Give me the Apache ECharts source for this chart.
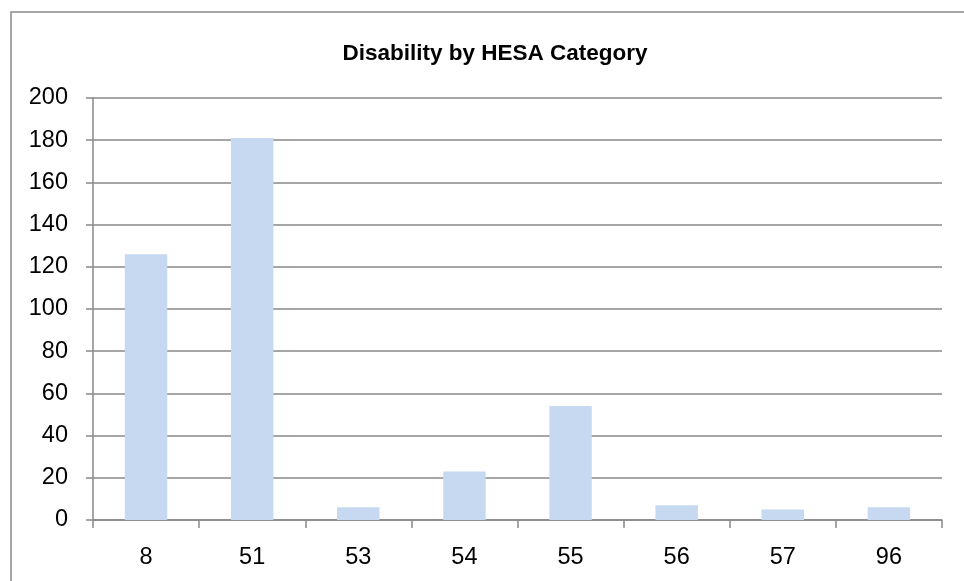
<!DOCTYPE html>
<html>
<head>
<meta charset="utf-8">
<script src="https://cdn.jsdelivr.net/npm/echarts@6/dist/echarts.min.js"></script>
<style>html,body{margin:0;padding:0;background:#fff}#c{width:964px;height:581px}</style>
</head>
<body>
<div id="c"></div>
<script>
const categories = ['8', '51', '53', '54', '55', '56', '57', '96'];
const values = [126, 181, 6, 23, 54, 7, 5, 6];
const titleText = 'Disability by HESA Category';

const chart = echarts.init(document.getElementById('c'), null, {renderer: 'canvas'});
const FONT = 'Liberation Sans';
chart.setOption({
  animation: false,
  backgroundColor: '#fff',
  title: {
    text: titleText,
    left: 490, top: 37, textAlign: 'center',
    textStyle: {fontFamily: FONT, fontWeight: 'bold', fontSize: 22.5, color: '#000'}
  },
  graphic: [{
    type: 'rect', silent: true,
    shape: {x: 11, y: 12, width: 1000, height: 1000},
    style: {fill: 'none', stroke: '#898989', lineWidth: 1.5}
  }],
  grid: {left: 93, right: 22, top: 98, bottom: 61, containLabel: false},
  xAxis: {
    type: 'category', data: categories, boundaryGap: true,
    axisLine: {show: true, lineStyle: {color: '#898989', width: 1.5}},
    axisTick: {show: true, length: 8, lineStyle: {color: '#898989', width: 1.5}},
    axisLabel: {fontFamily: FONT, fontSize: 23.5, color: '#000', margin: 26}
  },
  yAxis: {
    type: 'value', min: 0, max: 200, interval: 20,
    axisLine: {show: true, lineStyle: {color: '#898989', width: 1.5}},
    axisTick: {show: true, length: 7, lineStyle: {color: '#898989', width: 1.5}},
    splitLine: {show: true, lineStyle: {color: '#898989', width: 1.5}},
    axisLabel: {fontFamily: FONT, fontSize: 23.5, color: '#000', margin: 25, padding: [3, 0, 0, 0]}
  },
  series: [{
    type: 'bar', data: values, barWidth: '40%',
    itemStyle: {color: '#C6D9F1'}
  }]
});
</script>
</body>
</html>
